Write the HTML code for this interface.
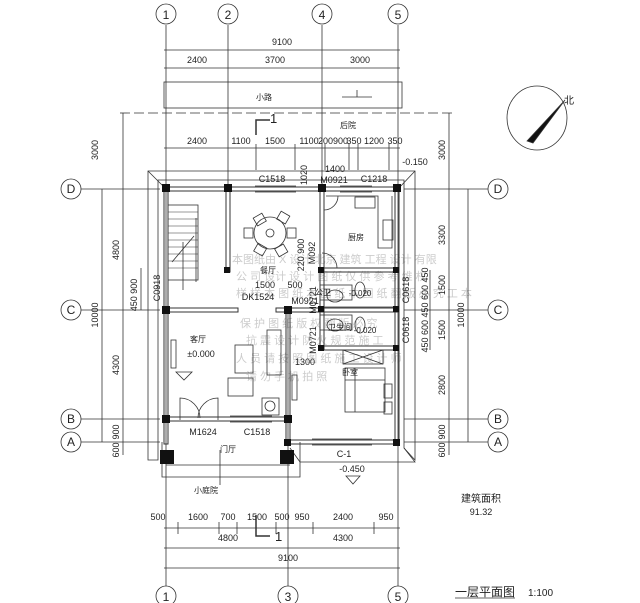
<!DOCTYPE html>
<html><head><meta charset="utf-8"><style>
html,body{margin:0;padding:0;background:#fff;}
svg{display:block;}
text{font-family:"Liberation Sans","Noto Sans CJK SC",sans-serif;fill:#222;}
</style></head><body>
<svg width="640" height="603" viewBox="0 0 640 603" xmlns="http://www.w3.org/2000/svg">
<!-- watermark -->
<g font-size="11" fill="#c8c8c8" style="fill:#c8c8c8">
<text x="232" y="263" style="fill:#ccc">本图纸由 X 设计 北京 建筑 工程 设计 有限</text>
<text x="236" y="280" style="fill:#ccc">公 司 设计 设 计 图 纸 仅 供 参 考 维 权</text>
<text x="236" y="297" style="fill:#ccc">样 样 本 图 纸 本 图 纸 本 图 纸 翻 版 必 究 工 本</text>
<text x="240" y="327" style="fill:#ccc">保 护 图 纸 版 权 翻 版 必 究</text>
<text x="246" y="344" style="fill:#ccc">抗 震 设 计 防 火 规 范 施 工</text>
<text x="236" y="362" style="fill:#ccc">人 员 请 按 照 图 纸 施 工 设 计 师</text>
<text x="246" y="380" style="fill:#ccc">请 勿 手 机 拍 照</text>
</g>
<g stroke="#333" stroke-width="0.8" fill="none">
<line x1="166" y1="25" x2="166" y2="586"/>
<line x1="228" y1="25" x2="228" y2="190"/>
<line x1="322" y1="25" x2="322" y2="190"/>
<line x1="398" y1="25" x2="398" y2="586"/>
<line x1="288" y1="310" x2="288" y2="586"/>
<line x1="81" y1="189" x2="160" y2="189"/><line x1="404" y1="189" x2="488" y2="189"/>
<line x1="81" y1="310" x2="160" y2="310"/><line x1="404" y1="310" x2="488" y2="310"/>
<line x1="81" y1="419" x2="160" y2="419"/><line x1="404" y1="419" x2="488" y2="419"/>
<line x1="81" y1="442" x2="160" y2="442"/><line x1="404" y1="442" x2="488" y2="442"/>
<line x1="164" y1="50" x2="400" y2="50"/>
<line x1="164" y1="68" x2="400" y2="68"/>
<line x1="164" y1="148" x2="400" y2="148"/>
<line x1="256" y1="144" x2="256" y2="170"/><line x1="295" y1="144" x2="295" y2="170"/>
<line x1="325" y1="144" x2="325" y2="170"/><line x1="349" y1="144" x2="349" y2="170"/>
<line x1="358" y1="144" x2="358" y2="170"/><line x1="389" y1="144" x2="389" y2="170"/>
<rect x="164" y="82" width="238" height="26"/>
<line x1="342" y1="97" x2="372" y2="97"/><line x1="357" y1="90" x2="357" y2="97"/>
<line x1="120" y1="113" x2="455" y2="113" stroke-dasharray="10,4"/>
<line x1="102" y1="189" x2="102" y2="442"/>
<line x1="123" y1="113" x2="123" y2="455"/>
<line x1="141" y1="268" x2="141" y2="310"/>
<line x1="449" y1="113" x2="449" y2="455"/>
<line x1="468" y1="189" x2="468" y2="442"/>
<line x1="430" y1="270" x2="430" y2="350"/>
<line x1="164" y1="528" x2="400" y2="528"/>
<line x1="164" y1="548" x2="400" y2="548"/>
<line x1="164" y1="568" x2="400" y2="568"/>
<line x1="178" y1="522" x2="178" y2="534"/><line x1="219" y1="522" x2="219" y2="534"/>
<line x1="237" y1="522" x2="237" y2="534"/><line x1="276" y1="522" x2="276" y2="534"/>
<line x1="313" y1="522" x2="313" y2="534"/><line x1="374" y1="522" x2="374" y2="534"/>
<circle cx="166" cy="14" r="10"/><circle cx="228" cy="14" r="10"/>
<circle cx="322" cy="14" r="10"/><circle cx="398" cy="14" r="10"/>
<circle cx="166" cy="596" r="10"/><circle cx="288" cy="596" r="10"/><circle cx="398" cy="596" r="10"/>
<circle cx="71" cy="189" r="10"/><circle cx="71" cy="310" r="10"/><circle cx="71" cy="419" r="10"/><circle cx="71" cy="442" r="10"/>
<circle cx="498" cy="189" r="10"/><circle cx="498" cy="310" r="10"/><circle cx="498" cy="419" r="10"/><circle cx="498" cy="442" r="10"/>
<path d="M148,171 L415,171 L415,460 L404,448 L404,180 L158,180 L158,460 L148,460 Z"/>
<line x1="148" y1="171" x2="166" y2="189"/><line x1="415" y1="171" x2="398" y2="189"/>
<path d="M290,448 L300,462 L415,462 L404,448"/>
<path d="M162,442 L162,477 L300,477 L300,442"/>
<line x1="166" y1="465" x2="290" y2="465"/>
<line x1="220" y1="450" x2="220" y2="485"/>
<g stroke-width="1">
<rect x="165" y="187" width="233" height="4"/>
<rect x="164" y="189" width="4" height="255"/>
<rect x="395" y="189" width="4" height="255"/>
<rect x="226" y="189" width="4" height="83"/>
<rect x="320" y="189" width="4" height="160"/>
<rect x="166" y="308" width="72" height="4"/>
<rect x="276" y="308" width="46" height="4"/>
<rect x="320" y="308" width="78" height="4"/>
<rect x="320" y="268" width="78" height="4"/>
<rect x="320" y="346" width="78" height="4"/>
<rect x="286" y="310" width="4" height="134"/>
<rect x="166" y="417" width="122" height="4"/>
<rect x="288" y="440" width="110" height="4"/>
</g>
<line x1="255" y1="186" x2="296" y2="186"/><line x1="255" y1="192" x2="296" y2="192"/>
<line x1="340" y1="186" x2="372" y2="186"/><line x1="340" y1="192" x2="372" y2="192"/>
<line x1="230" y1="416" x2="272" y2="416"/><line x1="230" y1="422" x2="272" y2="422"/>
<line x1="312" y1="439" x2="372" y2="439"/><line x1="312" y1="445" x2="372" y2="445"/>
<rect x="168" y="205" width="30" height="75"/>
<g stroke-width="0.6">
<line x1="168" y1="212" x2="198" y2="212"/><line x1="168" y1="219" x2="198" y2="219"/>
<line x1="168" y1="226" x2="198" y2="226"/><line x1="168" y1="233" x2="198" y2="233"/>
<line x1="168" y1="240" x2="198" y2="240"/><line x1="168" y1="247" x2="198" y2="247"/>
<line x1="168" y1="254" x2="198" y2="254"/><line x1="168" y1="261" x2="198" y2="261"/>
<line x1="168" y1="268" x2="198" y2="268"/>
</g>
<line x1="196" y1="218" x2="196" y2="282"/><line x1="172" y1="262" x2="194" y2="236"/>
<line x1="183" y1="242" x2="183" y2="290"/>
<circle cx="270" cy="233" r="16"/><circle cx="270" cy="233" r="4"/>
<rect x="255" y="215" width="10" height="9" transform="rotate(-30 260 220)"/>
<rect x="278" y="213" width="10" height="9" transform="rotate(30 283 218)"/>
<rect x="287" y="228" width="9" height="10"/>
<rect x="244" y="228" width="9" height="10"/>
<rect x="255" y="245" width="10" height="9" transform="rotate(30 260 250)"/>
<rect x="276" y="246" width="10" height="9" transform="rotate(-30 281 250)"/>
<path d="M326,196 L378,196 L378,248 L392,248 L392,196"/>
<rect x="355" y="197" width="20" height="11"/>
<rect x="383" y="220" width="10" height="20"/>
<path d="M324,210 A14,14 0 0 0 338,196"/>
<path d="M322,253 A15,15 0 0 1 337,268"/>
<ellipse cx="335" cy="296" rx="8" ry="6"/><ellipse cx="335" cy="325" rx="8" ry="6"/>
<ellipse cx="360" cy="290" rx="5" ry="8"/><ellipse cx="360" cy="325" rx="5" ry="8"/>
<rect x="320" y="285" width="32" height="15"/><rect x="320" y="315" width="32" height="15"/>
<line x1="322" y1="307" x2="398" y2="307"/>
<rect x="235" y="345" width="18" height="28"/>
<rect x="267" y="330" width="14" height="45"/>
<rect x="228" y="378" width="25" height="18"/>
<rect x="262" y="398" width="17" height="17"/><circle cx="270" cy="406" r="5"/>
<rect x="171" y="340" width="5" height="28"/>
<path d="M180,420 L180,398 A20,20 0 0 1 200,418"/>
<path d="M218,420 L218,398 A20,20 0 0 0 198,418"/>
<rect x="345" y="368" width="40" height="44"/>
<line x1="345" y1="380" x2="385" y2="380"/>
<line x1="355" y1="368" x2="355" y2="412"/>
<rect x="384" y="384" width="8" height="14"/>
<rect x="384" y="402" width="8" height="12"/>
<rect x="343" y="350" width="40" height="14"/>
<line x1="343" y1="350" x2="383" y2="364"/><line x1="383" y1="350" x2="343" y2="364"/>
<rect x="292" y="375" width="5" height="25"/>
<polyline points="256,135 256,120 270,120" stroke-width="1.5"/>
<polyline points="256,515 256,536 270,536" stroke-width="1.5"/>
<path d="M346,476 L360,476 L353,484 Z"/>
<path d="M176,372 L192,372 L184,380 Z"/>
<ellipse cx="537" cy="118" rx="30" ry="32"/>
<path d="M527,141 L565,100 L533,143 Z" fill="#111"/>
<line x1="455" y1="598" x2="515" y2="598"/>
</g>
<g fill="#111">
<rect x="162" y="184" width="8" height="8"/><rect x="224" y="184" width="8" height="8"/>
<rect x="318" y="184" width="8" height="8"/><rect x="393" y="184" width="8" height="8"/>
<rect x="224" y="267" width="6" height="6"/><rect x="318" y="267" width="6" height="6"/><rect x="393" y="267" width="6" height="6"/>
<rect x="162" y="306" width="8" height="8"/><rect x="284" y="306" width="8" height="8"/>
<rect x="318" y="306" width="6" height="6"/><rect x="393" y="306" width="6" height="6"/>
<rect x="318" y="345" width="6" height="6"/><rect x="393" y="345" width="6" height="6"/>
<rect x="162" y="415" width="8" height="8"/><rect x="284" y="415" width="8" height="8"/>
<rect x="284" y="439" width="7" height="7"/><rect x="393" y="439" width="7" height="7"/>
<rect x="160" y="450" width="14" height="14"/><rect x="280" y="450" width="14" height="14"/>
</g>
<g font-size="12" text-anchor="middle">
<text x="166" y="19">1</text><text x="228" y="19">2</text><text x="322" y="19">4</text><text x="398" y="19">5</text>
<text x="166" y="601">1</text><text x="288" y="601">3</text><text x="398" y="601">5</text>
<text x="71" y="193">D</text><text x="71" y="314">C</text><text x="71" y="423">B</text><text x="71" y="446">A</text>
<text x="498" y="193">D</text><text x="498" y="314">C</text><text x="498" y="423">B</text><text x="498" y="446">A</text>
</g>
<g font-size="9" text-anchor="middle">
<text x="282" y="45">9100</text>
<text x="197" y="63">2400</text><text x="275" y="63">3700</text><text x="360" y="63">3000</text>
<text x="197" y="144">2400</text><text x="241" y="144">1100</text><text x="275" y="144">1500</text>
<text x="309" y="144">1100</text><text x="333" y="144">200900</text><text x="354" y="144">350</text><text x="374" y="144">1200</text><text x="395" y="144">350</text>
<text x="335" y="172">1400</text>
<text x="272" y="182">C1518</text><text x="334" y="183">M0921</text><text x="374" y="182">C1218</text>
<text x="265" y="288">1500</text><text x="295" y="288">500</text>
<text x="258" y="300">DK1524</text><text x="305" y="304">M0921</text>
<text x="203" y="435">M1624</text><text x="257" y="435">C1518</text>
<text x="344" y="457">C-1</text><text x="352" y="472">-0.450</text>
<text x="305" y="365">1300</text>
<text x="201" y="357">±0.000</text>
<text x="360" y="296" font-size="8">-0.020</text>
<text x="365" y="333" font-size="8">-0.020</text>
<text x="415" y="165">-0.150</text>
<text x="158" y="520">500</text><text x="198" y="520">1600</text><text x="228" y="520">700</text><text x="257" y="520">1500</text>
<text x="282" y="520">500</text><text x="302" y="520">950</text><text x="343" y="520">2400</text><text x="386" y="520">950</text>
<text x="228" y="541">4800</text><text x="343" y="541">4300</text><text x="288" y="561">9100</text>
<text x="481" y="515">91.32</text>
</g>
<g font-size="8" text-anchor="middle">
<text x="264" y="100">小路</text><text x="348" y="128">后院</text>
<text x="268" y="273">餐厅</text><text x="356" y="240">厨房</text>
<text x="198" y="342">客厅</text><text x="350" y="375">卧室</text>
<text x="340" y="330">卫生间</text><text x="323" y="295">公卫</text>
<text x="228" y="452">门厅</text><text x="206" y="493">小庭院</text>
<text x="569" y="104" font-size="10">北</text>
<text x="481" y="502" font-size="10">建筑面积</text>
</g>
<text x="270" y="123" font-size="13" font-family="Liberation Serif">1</text>
<text x="275" y="541" font-size="13" font-family="Liberation Serif">1</text>
<text x="455" y="596" font-size="12">一层平面图</text>
<text x="528" y="596" font-size="10">1:100</text>
<g font-size="9" text-anchor="middle">
<text transform="translate(98,150) rotate(-90)">3000</text>
<text transform="translate(119,250) rotate(-90)">4800</text>
<text transform="translate(98,315) rotate(-90)">10000</text>
<text transform="translate(119,365) rotate(-90)">4300</text>
<text transform="translate(119,432) rotate(-90)">900</text>
<text transform="translate(119,450) rotate(-90)">600</text>
<text transform="translate(137,295) rotate(-90)">450 900</text>
<text transform="translate(160,288) rotate(-90)">C0918</text>
<text transform="translate(445,150) rotate(-90)">3000</text>
<text transform="translate(445,235) rotate(-90)">3300</text>
<text transform="translate(464,315) rotate(-90)">10000</text>
<text transform="translate(445,285) rotate(-90)">1500</text>
<text transform="translate(445,330) rotate(-90)">1500</text>
<text transform="translate(445,385) rotate(-90)">2800</text>
<text transform="translate(445,432) rotate(-90)">900</text>
<text transform="translate(445,450) rotate(-90)">600</text>
<text transform="translate(428,310) rotate(-90)">450 600 450 600 450</text>
<text transform="translate(409,290) rotate(-90)">C0618</text>
<text transform="translate(409,330) rotate(-90)">C0618</text>
<text transform="translate(315,253) rotate(-90)">M092</text>
<text transform="translate(316,300) rotate(-90)">M0721</text>
<text transform="translate(316,340) rotate(-90)">M0721</text>
<text transform="translate(304,255) rotate(-90)">220 900</text>
<text transform="translate(307,175) rotate(-90)">1020</text>
</g>
</svg>
</body></html>
